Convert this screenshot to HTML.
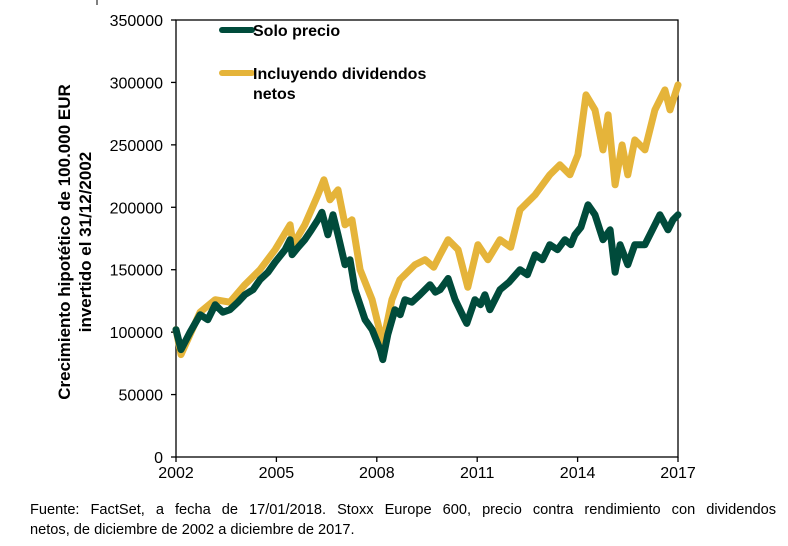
<!DOCTYPE html>
<html><head><meta charset="utf-8"><style>
body{margin:0;background:#fff;width:788px;height:546px;overflow:hidden;font-family:"Liberation Sans",Arial,sans-serif;}
#foot{position:absolute;left:30px;top:500px;width:746px;font-size:14.6px;line-height:20px;color:#000;}
#foot .l1{text-align:justify;text-align-last:justify;white-space:nowrap;display:block;}
</style></head><body>
<svg id="chart" width="788" height="546" style="position:absolute;left:0;top:0">
<line x1="97" y1="0" x2="97" y2="5" stroke="#000" stroke-width="1"/>
<g id="axes"></g>
<g id="series"></g>
<g>
<line x1="222" y1="30" x2="252" y2="30" stroke="#004b3b" stroke-width="6" stroke-linecap="round"/>
<text x="253" y="36" font-size="16" font-weight="bold">Solo precio</text>
<line x1="222" y1="73" x2="252" y2="73" stroke="#e5b43a" stroke-width="6" stroke-linecap="round"/>
<text x="253" y="79" font-size="16" font-weight="bold">Incluyendo dividendos</text>
<text x="253" y="99" font-size="16" font-weight="bold">netos</text>
</g>
<text transform="translate(70,242) rotate(-90)" text-anchor="middle" font-size="17" font-weight="bold"><tspan x="0" y="0">Crecimiento hipotético de 100.000 EUR</tspan><tspan x="0" y="21">invertido el 31/12/2002</tspan></text>
</svg>
<div id="foot"><span class="l1">Fuente: FactSet, a fecha de 17/01/2018. Stoxx Europe 600, precio contra rendimiento con dividendos</span>netos, de diciembre de 2002 a diciembre de 2017.</div>
<script>
const yTicks=[0,50000,100000,150000,200000,250000,300000,350000];
const xTicks=[2002,2005,2008,2011,2014,2017];
const priceYears=[2002.00,2002.15,2002.42,2002.72,2002.95,2003.17,2003.40,2003.61,2003.85,2004.06,2004.30,2004.51,2004.75,2004.96,2005.26,2005.41,2005.47,2005.65,2005.85,2006.05,2006.24,2006.36,2006.54,2006.69,2006.84,2007.05,2007.20,2007.35,2007.65,2007.86,2008.10,2008.18,2008.33,2008.54,2008.70,2008.84,2009.05,2009.29,2009.59,2009.75,2009.89,2010.13,2010.34,2010.63,2010.69,2010.93,2011.10,2011.23,2011.38,2011.68,2011.95,2012.28,2012.50,2012.73,2012.95,2013.17,2013.40,2013.62,2013.80,2013.92,2014.10,2014.31,2014.52,2014.76,2014.97,2015.12,2015.27,2015.50,2015.71,2016.01,2016.31,2016.46,2016.70,2016.85,2017.00];
const priceValues=[102000,86000,100000,114000,110000,122000,116000,118000,124000,130000,134000,142000,148000,156000,166000,174000,162000,168000,174000,182000,190000,196000,178000,194000,178000,154000,158000,134000,110000,102000,86000,78000,98000,118000,114000,126000,124000,130000,138000,132000,134000,143000,126000,110000,107000,126000,122000,130000,118000,134000,140000,150000,146000,162000,158000,170000,166000,174000,170000,178000,184000,202000,194000,174000,182000,148000,170000,154000,170000,170000,186000,194000,182000,190000,194000];
const divYears=[2002.00,2002.15,2002.72,2003.17,2003.61,2004.06,2004.51,2004.96,2005.41,2005.50,2005.85,2006.24,2006.42,2006.60,2006.84,2007.05,2007.26,2007.50,2007.86,2008.18,2008.45,2008.69,2009.14,2009.44,2009.70,2009.89,2010.13,2010.43,2010.72,2011.02,2011.32,2011.68,2012.00,2012.28,2012.73,2013.17,2013.47,2013.77,2014.01,2014.25,2014.52,2014.76,2014.91,2015.12,2015.33,2015.50,2015.71,2016.01,2016.31,2016.61,2016.76,2017.00];
const divValues=[102000,82000,116000,126000,124000,138000,150000,166000,186000,170000,186000,210000,222000,206000,214000,186000,190000,150000,126000,91000,126000,142000,154000,158000,152000,162000,174000,166000,136000,170000,158000,174000,168000,198000,210000,226000,234000,226000,242000,290000,278000,246000,274000,218000,250000,226000,254000,246000,278000,294000,278000,298000];
const L=176,R=678,T=20,B=457;
const xs=v=>L+(v-2002)/(2017-2002)*(R-L);
const ys=v=>B-v/350000*(B-T);
const NS="http://www.w3.org/2000/svg";
const ax=document.getElementById('axes');
function mk(t,a,p){const e=document.createElementNS(NS,t);for(const k in a)e.setAttribute(k,a[k]);(p||ax).appendChild(e);return e;}
const frame=mk('rect',{x:L,y:T,width:R-L,height:B-T,fill:'none',stroke:'#000','stroke-width':1.3});


yTicks.forEach(v=>{
 const y=ys(v);
 const tk=mk('line',{x1:L-5,x2:L,y1:y,y2:y,stroke:'#000','stroke-width':1.3});
 
 
 const t=mk('text',{x:L-13,y:y+6,'text-anchor':'end','font-size':16});
 
 
 t.textContent=v;
});
xTicks.forEach(v=>{
 const x=xs(v);
 const tk=mk('line',{x1:x,x2:x,y1:B,y2:B+5,stroke:'#000','stroke-width':1.3});
 
 
 const t=mk('text',{x:x,y:B+21,'text-anchor':'middle','font-size':16});
 
 
 t.textContent=v;
});
const sg=document.getElementById('series');
function line(xsArr,vals,color,name){
 const d=xsArr.map((x,i)=>(i?'L':'M')+xs(x).toFixed(1)+','+ys(vals[i]).toFixed(1)).join(' ');
 const p=mk('path',{d:d,fill:'none',stroke:color,'stroke-width':7,'stroke-linejoin':'round','stroke-linecap':'round'},sg);
 
 
}
line(divYears,divValues,'#e5b43a','dividends-line');
line(priceYears,priceValues,'#004b3b','price-line');
</script>
</body></html>
